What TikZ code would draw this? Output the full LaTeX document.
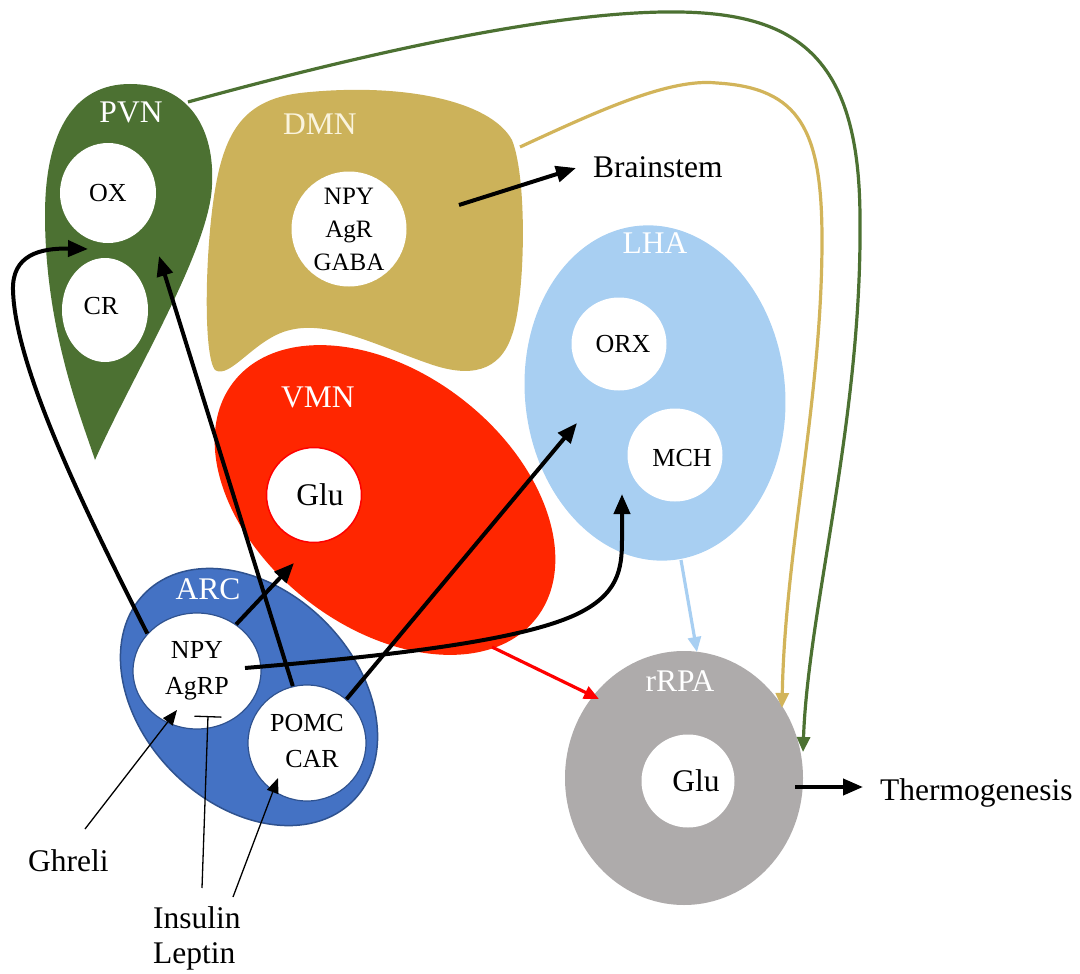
\documentclass[tikz,border=0pt]{standalone}
\usepackage{fontspec}
\setmainfont{Liberation Serif}
\usetikzlibrary{shapes.geometric,arrows.meta}
\definecolor{pvn}{RGB}{76,113,50}
\definecolor{dmn}{RGB}{204,178,90}
\definecolor{goldl}{RGB}{210,180,90}
\definecolor{vmn}{RGB}{255,38,0}
\definecolor{lha}{RGB}{168,207,242}
\definecolor{arcf}{RGB}{68,114,196}
\definecolor{arcb}{RGB}{47,82,143}
\definecolor{rrpa}{RGB}{174,171,171}
\definecolor{cream}{RGB}{250,244,222}
\tikzset{
  bigtxt/.style={font=\fontsize{31.5}{36}\selectfont, inner sep=0pt},
  smalltxt/.style={font=\fontsize{26}{36}\selectfont, inner sep=0pt, align=center},
  regionlabel/.style={bigtxt, text=white},
  cell/.style={ellipse, fill=white, inner sep=0pt, draw=none},
  sig/.style={line width=4pt, -{Triangle[length=20pt,width=16pt]}},
  colsig/.style={line width=3.2pt, -{Triangle[length=15pt,width=13pt]}},
  thinsig/.style={line width=1.3pt, -{Triangle[length=15pt,width=12pt]}},
}
\begin{document}
\begin{tikzpicture}[x=1pt,y=-1pt]
\useasboundingbox (0,0) rectangle (1080,974);

% ---------- regions ----------
\fill[pvn] (95,460) .. controls (82,420) and (45,330) .. (45,215)
  .. controls (45,130) and (75,84) .. (130,84)
  .. controls (190,84) and (215,130) .. (212,185)
  .. controls (210,250) and (130,380) .. (95,460) -- cycle;
\fill[dmn] (215,370) .. controls (203,355) and (205,250) .. (215,190)
  .. controls (225,130) and (245,100) .. (300,93)
  .. controls (400,82) and (490,100) .. (512,140)
  .. controls (528,180) and (525,300) .. (512,335)
  .. controls (500,372) and (470,378) .. (430,364)
  .. controls (380,347) and (330,320) .. (290,330)
  .. controls (255,338) and (230,380) .. (215,370) -- cycle;
\fill[vmn, rotate around={-38:(385,500)}] (385,500) ellipse [x radius=192, y radius=127];
\fill[lha, rotate around={6:(655,393)}] (655,393) ellipse [x radius=130, y radius=168];
\filldraw[fill=arcf, draw=arcb, line width=1.5pt, rotate around={-45:(249,697)}] (249,697) ellipse [x radius=147, y radius=107];
\fill[rrpa] (684,778) ellipse [x radius=119, y radius=127];

% ---------- region labels ----------
\node[regionlabel] (pvnlab) at (131,112) {PVN};
\node[regionlabel, text=cream] (dmnlab) at (320,124) {DMN};
\node[regionlabel] (vmnlab) at (318,397) {VMN};
\node[regionlabel] (lhalab) at (655,243) {LHA};
\node[regionlabel] (arclab) at (208,589) {ARC};
\node[regionlabel] (rrpalab) at (680,681) {rRPA};

% ---------- cells ----------
\node[cell, minimum width=96pt, minimum height=100pt,
  label={[smalltxt]center:OX}] (ox) at (108,193) {};
\node[cell, minimum width=86pt, minimum height=104pt,
  label={[smalltxt, xshift=-4pt, yshift=4pt]center:CR}] (cr) at (105,310) {};
\node[cell, minimum size=115pt,
  label={[smalltxt, font=\fontsize{25}{33}\selectfont]center:{NPY\\AgR\\GABA}}] (dmnc) at (349,229) {};
\node[cell, minimum size=95pt, draw=red, line width=1.5pt,
  label={[bigtxt, xshift=6pt]center:Glu}] (vglu) at (314,495) {};
\node[cell, minimum width=95pt, minimum height=93pt,
  label={[smalltxt, xshift=4pt]center:ORX}] (orx) at (619,344) {};
\node[cell, minimum width=95pt, minimum height=93pt,
  label={[smalltxt, xshift=7pt, yshift=-3pt]center:MCH}] (mch) at (675,455) {};
\node[cell, minimum width=128pt, minimum height=116pt, draw=arcb, line width=1.2pt,
  label={[smalltxt]center:{NPY\\AgRP}}] (npy) at (197,671) {};
\node[cell, minimum width=118pt, minimum height=116pt, draw=arcb, line width=1.2pt,
  label={[smalltxt, yshift=2pt]center:{POMC\\\hspace*{10pt}CAR}}] (pomc) at (307,743) {};
\node[cell, minimum size=93pt,
  label={[bigtxt, xshift=8pt]center:Glu}] (rglu) at (688,781) {};

% ---------- free texts ----------
\node[bigtxt, anchor=base west] (brain) at (593,177) {Brainstem};
\node[bigtxt, anchor=base west] (thermo) at (880,800) {Thermogenesis};
\node[bigtxt, anchor=base west] (ghr) at (28,871) {Ghreli};
\node[bigtxt, anchor=base west] (ins) at (153,928) {Insulin};
\node[bigtxt, anchor=base west] (lep) at (153,963) {Leptin};

% ---------- named end points ----------
\coordinate (pvnin) at (88,249);
\coordinate (pvnin2) at (159,256);
\coordinate (vmnin) at (294,563);
\coordinate (lhain) at (577,423);
\coordinate (mchin) at (622,494);
\coordinate (npyr) at (245,668);
\coordinate (dmnout) at (459,205);
\coordinate (brtip) at (576,168);
\coordinate (rout) at (795,787);
\coordinate (thtip) at (863,787);
\coordinate (pvnout) at (188,102);
\coordinate (dmnright) at (520,147);
\coordinate (rrpagold) at (782,708);
\coordinate (rrpagreen) at (803,752);
\coordinate (lhaout) at (681,560);
\coordinate (rrpatop) at (697,652);
\coordinate (vmnout) at (492,647);
\coordinate (rrpaleft) at (599,699);
\coordinate (gh0) at (85,829);
\coordinate (ghtip) at (177,710);
\coordinate (ins0) at (202,888);
\coordinate (instip) at (208,716);
\coordinate (lep0) at (233,897);
\coordinate (leptip) at (278,778);

% ---------- coloured projections ----------
\draw[colsig, draw=pvn] (pvnout) .. controls (370,52) and (560,10) .. (680,12)
  .. controls (800,14) and (860,60) .. (860,220)
  .. controls (862,420) and (808,610) .. (rrpagreen);
\draw[colsig, draw=goldl] (dmnright) .. controls (600,110) and (670,78) .. (717,83)
  .. controls (800,88) and (822,130) .. (822,240)
  .. controls (822,400) and (785,550) .. (rrpagold);
\draw[colsig, draw=lha] (lhaout) -- (rrpatop);
\draw[colsig, draw=red] (vmnout) -- (rrpaleft);

% ---------- black projections ----------
\draw[sig] (npy.143) .. controls (90,520) and (15,370) .. (13,290)
  .. controls (12,255) and (40,248) .. (pvnin);
\draw[sig] (pomc.104) -- (pvnin2);
\draw[sig] (npy.50) -- (vmnin);
\draw[sig] (pomc.48) -- (lhain);
\draw[sig] (npyr) .. controls (400,655) and (520,640) .. (575,615)
  .. controls (618,595) and (622,570) .. (622,540) -- (mchin);
\draw[sig] (dmnout) -- (brtip);
\draw[sig] (rout) -- (thtip);

% ---------- hormones ----------
\draw[thinsig] (gh0) -- (ghtip);
\draw[line width=1.3pt, -{Bar[width=27pt,line width=1.3pt]}] (ins0) -- (instip);
\draw[thinsig] (lep0) -- (leptip);
\end{tikzpicture}
\end{document}
